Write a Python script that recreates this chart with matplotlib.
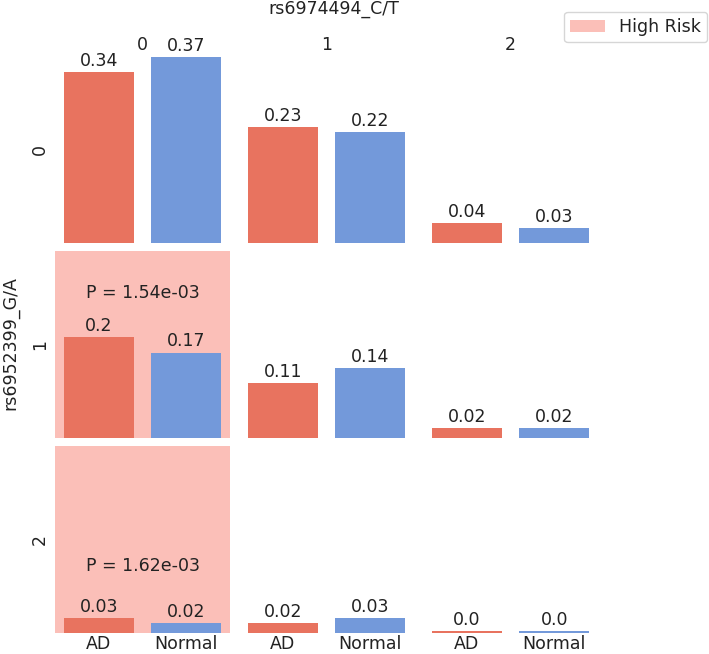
import matplotlib
matplotlib.use("Agg")
import matplotlib.pyplot as plt
from matplotlib.patches import Patch

groups = ["AD", "Normal"]
row_levels = ["0", "1", "2"]   # rs6952399_G/A
col_levels = ["0", "1", "2"]   # rs6974494_C/T
ad_vals = [[0.34, 0.23, 0.04],
           [0.20, 0.11, 0.02],
           [0.03, 0.02, 0.003]]
normal_vals = [[0.37, 0.22, 0.03],
               [0.17, 0.14, 0.02],
               [0.02, 0.03, 0.003]]
high_risk = [(1, 0), (2, 0)]
p_values = {(1, 0): "P = 1.54e-03", (2, 0): "P = 1.62e-03"}
row_title = "rs6952399_G/A"
col_title = "rs6974494_C/T"

AD_C = "#E8735F"
NORM_C = "#7399DA"
PINK = "#FBBFB8"
FS = 12.5
TXT = "#222222"

W, H = 709, 654
fig = plt.figure(figsize=(W / 100, H / 100), dpi=100)

col_left = [55, 239, 423]
row_top = [56, 251, 446]
aw, ah = 175, 187

for r in range(3):
    for c in range(3):
        ax = fig.add_axes([col_left[c] / W, 1 - (row_top[r] + ah) / H, aw / W, ah / H])
        vals = [ad_vals[r][c], normal_vals[r][c]]
        bars = ax.bar(groups, vals, width=0.8, color=[AD_C, NORM_C], edgecolor="none")
        for b, v in zip(bars, vals):
            ax.annotate(str(round(v, 2)), (b.get_x() + b.get_width() / 2, b.get_height()),
                        xytext=(0, 1.5), textcoords="offset points",
                        ha="center", va="bottom", fontsize=FS, color=TXT)
        ax.set_xlim(-0.5, 1.5)
        ax.set_ylim(0, 0.372)
        for s in ax.spines.values():
            s.set_visible(False)
        ax.set_yticks([])
        ax.tick_params(axis="x", length=0, pad=1.5, labelsize=FS, labelcolor=TXT)
        if r != 2:
            ax.set_xticklabels([])
        if (r, c) in high_risk:
            ax.set_facecolor(PINK)
        else:
            ax.set_facecolor("none")
        if (r, c) in p_values:
            ypos = 0.777 if r == 1 else 0.356
            ax.text(0.5, ypos, p_values[(r, c)], transform=ax.transAxes,
                    ha="center", va="center", fontsize=FS, color=TXT)

# column labels
for c in range(3):
    fig.text((col_left[c] + aw / 2) / W, 1 - 45 / H, col_levels[c],
             ha="center", va="center", fontsize=FS, color=TXT)
fig.text(334 / W, 1 - 9 / H, col_title, ha="center", va="center", fontsize=FS, color=TXT)

# row labels
for r in range(3):
    fig.text(40 / W, 1 - (row_top[r] + ah / 2) / H, row_levels[r], rotation=90,
             ha="center", va="center", fontsize=FS, color=TXT)
fig.text(10 / W, 1 - 343 / H, row_title, rotation=90, ha="center", va="center",
         fontsize=FS, color=TXT)

fig.legend(handles=[Patch(facecolor=PINK, label="High Risk")], loc="upper right",
           bbox_to_anchor=(707 / W, 1 - 12 / H), fontsize=FS, frameon=True,
           borderaxespad=0, borderpad=0.35, handletextpad=0.8, labelcolor=TXT)

fig.savefig("out.png", dpi=100)
